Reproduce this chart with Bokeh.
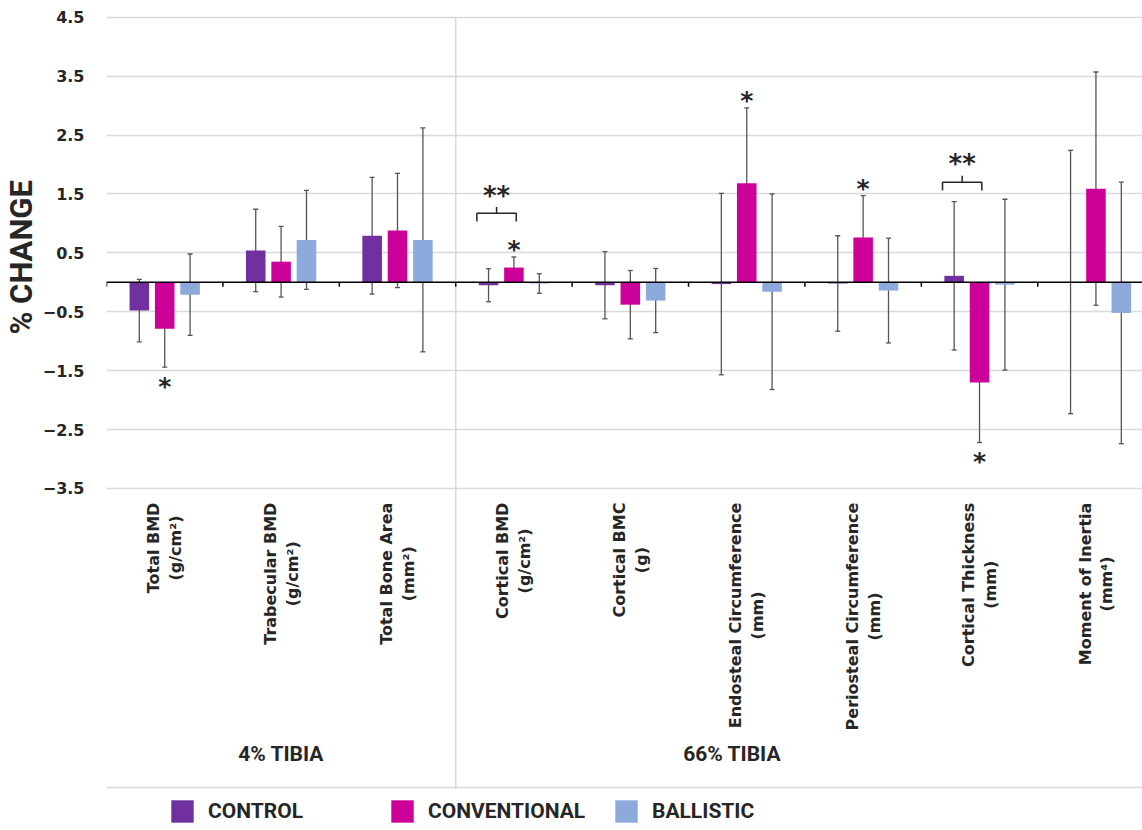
import numpy as np
from bokeh.plotting import figure
from bokeh.models import (ColumnDataSource, Whisker, TeeHead, Span, FixedTicker,
                          Range1d, Legend, LegendItem, Title)
from bokeh.core.properties import value
from bokeh.embed import file_html
from bokeh.resources import INLINE

# ---------------- data ----------------
categories = ["Total BMD", "Trabecular BMD", "Total Bone Area", "Cortical BMD",
              "Cortical BMC", "Endosteal Circumference", "Periosteal Circumference",
              "Cortical Thickness", "Moment of Inertia"]
units = ["(g/cm²)", "(g/cm²)", "(mm²)", "(g/cm²)", "(g)", "(mm)", "(mm)", "(mm)", "(mm⁴)"]
site_labels = ["4% TIBIA", "66% TIBIA"]
series_names = ["CONTROL", "CONVENTIONAL", "BALLISTIC"]

control_mean = [-0.48, 0.54, 0.79, -0.05, -0.05, -0.03, -0.02, 0.11, 0.005]
control_err = [0.53, 0.70, 0.99, 0.28, 0.57, 1.54, 0.81, 1.26, 2.235]
conventional_mean = [-0.79, 0.35, 0.88, 0.25, -0.38, 1.68, 0.76, -1.70, 1.59]
conventional_err = [0.65, 0.60, 0.97, 0.18, 0.58, 1.28, 0.71, 1.02, 1.98]
ballistic_mean = [-0.21, 0.72, 0.72, -0.02, -0.31, -0.16, -0.14, -0.04, -0.52]
ballistic_err = [0.69, 0.84, 1.90, 0.165, 0.545, 1.66, 0.89, 1.45, 2.22]

y_ticks = [4.5, 3.5, 2.5, 1.5, 0.5, -0.5, -1.5, -2.5, -3.5]

# significance markers
single_star_groups = [0, 3, 5, 6, 7]
single_star_side = ["below", "above", "above", "above", "below"]
double_star_groups = [3, 7]
double_star_bracket_y = [1.17, 1.70]

# ---------------- styling ----------------
colors = ["#7030A0", "#CC0099", "#8EA9DB"]
grid_color = "#D9D9D9"
err_color = "#555555"
text_color = "#262626"
offsets = [-0.218, 0.0, 0.218]
bar_w = 0.168

n = len(categories)
centers = np.arange(n) + 0.5
x_end = 8.90

p = figure(width=1142, height=830, output_backend="svg", toolbar_location=None,
           x_range=Range1d(0, x_end), y_range=Range1d(-9.306, 4.546),
           x_axis_location=None, min_border_left=105, min_border_right=0,
           min_border_top=14, min_border_bottom=0)
p.outline_line_color = None
p.background_fill_color = "white"
p.border_fill_color = "white"

# y axis
p.yaxis.ticker = FixedTicker(ticks=y_ticks)
p.yaxis.axis_line_color = None
p.yaxis.major_tick_line_color = None
p.yaxis.minor_tick_line_color = None
p.yaxis.major_tick_out = 0
p.yaxis.major_tick_in = 0
p.yaxis.minor_tick_out = 0
p.yaxis.minor_tick_in = 0
p.yaxis.major_label_standoff = 22
p.yaxis.major_label_text_font = "DejaVu Sans"
p.yaxis.major_label_text_font_style = "bold"
p.yaxis.major_label_text_font_size = "16px"
p.yaxis.major_label_text_color = text_color

# axis title, placed alongside the labelled value range
p.add_layout(Title(text="% CHANGE", align="left", offset=496,
                   text_font="Roboto", text_font_style="bold",
                   text_font_size="31px", text_color=text_color, standoff=0), "left")

p.xgrid.visible = False
p.ygrid.ticker = FixedTicker(ticks=y_ticks)
p.ygrid.grid_line_color = grid_color
p.ygrid.grid_line_width = 1.5

# separator and bottom rule
y_bottom_rule = -8.576
p.segment(x0=[3.0], y0=[y_ticks[0]], x1=[3.0], y1=[y_bottom_rule - 0.03],
          line_color=grid_color, line_width=1.5)
p.segment(x0=[0], y0=[y_bottom_rule], x1=[x_end], y1=[y_bottom_rule],
          line_color=grid_color, line_width=1.5)

# bars and error bars
means = [control_mean, conventional_mean, ballistic_mean]
errs = [control_err, conventional_err, ballistic_err]
bar_renderers = []
for k in range(3):
    m = np.array(means[k])
    e = np.array(errs[k])
    src = ColumnDataSource(dict(x=centers + offsets[k], top=m,
                                upper=m + e, lower=m - e))
    r = p.vbar(x="x", top="top", bottom=0, width=bar_w, source=src,
               fill_color=colors[k], line_color=None)
    bar_renderers.append(r)
    wk = Whisker(base="x", upper="upper", lower="lower", source=src,
                 line_color=err_color, line_width=1.3,
                 upper_head=TeeHead(size=5, line_color=err_color, line_width=1.3),
                 lower_head=TeeHead(size=5, line_color=err_color, line_width=1.3))
    p.add_layout(wk)

# zero axis line with ticks
p.add_layout(Span(location=0, dimension="width", line_color="black", line_width=1.6))
tick_x = np.arange(0, n)
p.segment(x0=tick_x, y0=np.zeros(n), x1=tick_x, y1=np.full(n, -0.075),
          line_color="black", line_width=1.5)

# single stars
conv_m = np.array(conventional_mean)
conv_e = np.array(conventional_err)
sx, sy = [], []
for g, side in zip(single_star_groups, single_star_side):
    sx.append(centers[g] + offsets[1])
    if side == "above":
        sy.append(conv_m[g] + conv_e[g] + 0.12)
    else:
        sy.append(conv_m[g] - conv_e[g] - 0.33)
p.text(x=sx, y=sy, text=["*"] * len(sx), text_font=value("DejaVu Sans"),
       text_font_style="bold", text_font_size="25px", text_color=text_color,
       text_align="center", text_baseline="middle")

# double stars with brackets
bxs, bys = [], []
dsx, dsy = [], []
for g, by in zip(double_star_groups, double_star_bracket_y):
    x0 = centers[g] + offsets[0] - 0.10
    x1 = centers[g] + offsets[1] + 0.02
    xm = (x0 + x1) / 2
    bxs.append([x0, x0, x1, x1])
    bys.append([by - 0.14, by, by, by - 0.14])
    bxs.append([xm, xm])
    bys.append([by, by + 0.11])
    dsx.append(xm)
    dsy.append(by + 0.30)
p.multi_line(xs=bxs, ys=bys, line_color=text_color, line_width=1.5)
p.text(x=dsx, y=dsy, text=["**"] * len(dsx), text_font=value("DejaVu Sans"),
       text_font_style="bold", text_font_size="26px", text_color=text_color,
       text_align="center", text_baseline="middle")

# category labels (vertical)
labels = [c + "\n" + u for c, u in zip(categories, units)]
p.text(x=centers, y=np.full(n, -3.74), text=labels, angle=np.pi / 2,
       anchor="center_right", text_align="center",
       text_font=value("DejaVu Sans"), text_font_style="bold",
       text_font_size="16px", text_color=text_color, text_line_height=1.15)

# site labels
p.text(x=[1.5, 5.375], y=[-8.0, -8.0], text=site_labels,
       text_font=value("Roboto"), text_font_style="bold", text_font_size="21px",
       text_color=text_color, text_align="center", text_baseline="middle")

# legend (three entries positioned like the original)
legend_pos = [(62, 5), (282, 5), (506, 5)]
for k in range(3):
    lg = Legend(items=[LegendItem(label=series_names[k], renderers=[bar_renderers[k]])],
                location=legend_pos[k], orientation="horizontal",
                glyph_width=28, glyph_height=28, label_standoff=12,
                padding=0, margin=0, spacing=0,
                border_line_alpha=0, background_fill_alpha=0,
                label_text_font="Roboto", label_text_font_style="bold",
                label_text_font_size="21px", label_text_color=text_color)
    p.add_layout(lg)

open("out.html", "w").write(file_html(p, INLINE))
